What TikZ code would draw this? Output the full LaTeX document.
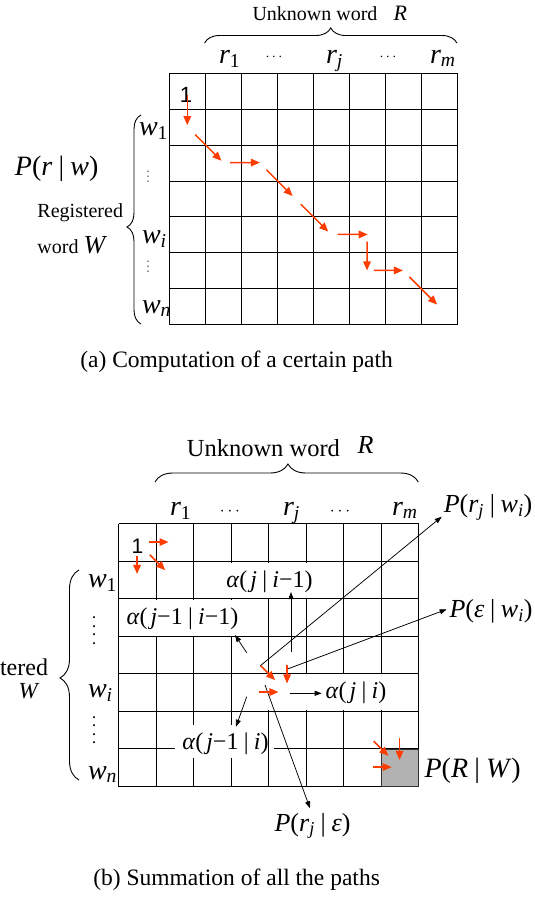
\documentclass[tikz,border=0pt]{standalone}
\usepackage{fontspec}
\setmainfont{Liberation Serif}
\newfontfamily\arialf{Liberation Sans}
\usetikzlibrary{calc,decorations.pathreplacing,arrows.meta}
\definecolor{redarr}{RGB}{255,60,0}
\definecolor{cellgray}{RGB}{178,178,178}
\newcommand\mi[1]{\textit{#1}}
\newcommand\sbs[1]{\textsubscript{#1}}
\newcommand\fs[1]{\fontsize{#1}{#1}\selectfont}
\newcommand\vbar{\kern.22em|\kern.22em}
\newcommand\vdthree[1]{\vbox{\baselineskip=#1\lineskiplimit=-20pt\relax\hbox{•}\hbox{•}\hbox{•}}}
\newcommand\vdfour[1]{\vbox{\baselineskip=#1\lineskiplimit=-20pt\relax\hbox{•}\hbox{•}\hbox{•}\hbox{•}}}
\newcommand\rarr[4]{\draw[redarrow] ($(#1)!#3!(#2)$) -- ($(#1)!#4!(#2)$);}
\begin{document}
\begin{tikzpicture}[x=1pt,y=-1pt,
  gridline/.style={draw=black, line width=1.2pt},
  redarrow/.style={draw=redarr, line width=1.5pt, -{Triangle[length=9pt,width=7.5pt]}},
  blkarrow/.style={draw=black, line width=0.75pt, -{Triangle[length=7pt,width=5pt]}},
  bracedraw/.style={draw=black, line width=0.9pt, decorate},
  lab/.style={inner sep=0pt, outer sep=0pt},
  mask/.style={fill=white, draw=none}]
\useasboundingbox (0,0) rectangle (535,898);

% ================= (a) =================
\foreach \i in {0,...,8}{
  \pgfmathsetmacro\xx{round(169.3+35.95*\i)+0.5}
  \draw[gridline] (\xx,72.5) -- (\xx,324.5);}
\foreach \j in {0,...,7}{
  \pgfmathsetmacro\yy{round(72.7+35.95*\j)+0.5}
  \draw[gridline] (169.5,\yy) -- (457.5,\yy);}
\foreach \r in {1,...,7}
  \foreach \c in {1,...,8}
    \coordinate (A-\r-\c) at ({169.3+35.95*(\c-0.5)},{72.7+35.95*(\r-0.5)});

\draw[bracedraw, decoration={brace, amplitude=15pt, aspect=0.5}] (204.6,43) -- (456.9,43);
\node[lab, anchor=base, font=\fs{20}] (uwa) at (315,20) {Unknown word};
\node[lab, anchor=base, font=\fs{22}] (Ra) at (400.4,20) {\mi{R}};

\node[lab, anchor=base west, font=\fs{28}] (ra1) at (219,63) {\mi{r}\sbs{1}};
\node[lab, font=\fs{15}] (da1) at (274,57.7) {$\cdots$};
\node[lab, anchor=base west, font=\fs{28}] (raj) at (326,63) {\mi{r}\sbs{\mi{j}}};
\node[lab, font=\fs{15}] (da2) at (388,57.7) {$\cdots$};
\node[lab, anchor=base west, font=\fs{28}] (ram) at (430,63) {\mi{r}\sbs{\mi{m}}};

\node[lab, anchor=base west, font=\fs{28}] (wa1) at (139,135) {\mi{w}\sbs{1}};
\node[lab, font=\fs{5.5}] (vda1) at (148,177.5) {\vdthree{5pt}};
\node[lab, anchor=base west, font=\fs{28}] (wai) at (142,243) {\mi{w}\sbs{\mi{i}}};
\node[lab, font=\fs{5.5}] (vda2) at (148,267) {\vdthree{5pt}};
\node[lab, anchor=base west, font=\fs{28}] (wan) at (142,313) {\mi{w}\sbs{\mi{n}}};

\draw[bracedraw, decoration={brace, amplitude=14pt, aspect=0.464}] (141,324) -- (141,115);
\node[lab, anchor=base west, font=\fs{28}] (prwa) at (15,175) {\mi{P}(\mi{r}\vbar\mi{w})};
\node[lab, anchor=base west, font=\fs{20}] (rega) at (37.5,217) {Registered};
\node[lab, anchor=base west, font=\fs{20}] (worda) at (37.5,253) {word {\fs{26}\mi{W}}};

\node[lab, anchor=base, font=\arialf\fs{22}] (onea) at (186,102) {1};

\rarr{A-1-1}{A-2-1}{0.12}{0.96}
\rarr{A-2-1}{A-3-2}{0.22}{0.95}
\rarr{A-3-2}{A-3-3}{0.19}{1.02}
\rarr{A-3-3}{A-4-4}{0.2}{0.93}
\rarr{A-4-4}{A-5-5}{0.16}{0.92}
\rarr{A-5-5}{A-5-6}{0.18}{1.02}
\rarr{A-5-6}{A-6-6}{0.2}{1.0}
\rarr{A-6-6}{A-6-7}{0.19}{1.0}
\rarr{A-6-7}{A-7-8}{0.18}{0.95}

\node[lab, anchor=base, font=\fs{23.5}] (capa) at (236.6,367.5) {(a) Computation of a certain path};

% ================= (b) =================
\foreach \i in {0,...,8}{
  \pgfmathsetmacro\xx{round(118.3+37.5*\i)+0.5}
  \draw[gridline] (\xx,523.5) -- (\xx,786.5);}
\foreach \j in {0,...,7}{
  \pgfmathsetmacro\yy{round(523.3+37.5*\j)+0.5}
  \draw[gridline] (118.5,\yy) -- (418.5,\yy);}
\foreach \r in {1,...,7}
  \foreach \c in {1,...,8}
    \coordinate (B-\r-\c) at ({118.3+37.5*(\c-0.5)},{523.3+37.5*(\r-0.5)});

% white boxes behind the labels inside the grid
\fill[mask] (222,562.5) rectangle (316,598.2);
\fill[mask] (121,600.2) rectangle (240,635.9);
\fill[mask] (262,674.2) rectangle (394,710.2);
\fill[mask] (175,725) rectangle (273.5,757.5);
\draw[gridline] (268.5,711) -- (268.5,786.5);

\filldraw[fill=cellgray, draw=black!80, line width=1.6pt] (381.5,749.5) rectangle (418.5,786.5);

\draw[bracedraw, decoration={brace, amplitude=18pt, aspect=0.505}] (155,482) -- (418.3,482);
\node[lab, anchor=base, font=\fs{24.5}] (uwb) at (263.4,456) {Unknown word};
\node[lab, anchor=base, font=\fs{26}] (Rb) at (365.5,453) {\mi{R}};

\node[lab, anchor=base west, font=\fs{28}] (rb1) at (170,515) {\mi{r}\sbs{1}};
\node[lab, font=\fs{18}] (db1) at (230,511.7) {$\cdots$};
\node[lab, anchor=base west, font=\fs{28}] (rbj) at (283,515) {\mi{r}\sbs{\mi{j}}};
\node[lab, font=\fs{18}] (db2) at (340,511.7) {$\cdots$};
\node[lab, anchor=base west, font=\fs{28}] (rbm) at (392,515) {\mi{r}\sbs{\mi{m}}};

\node[lab, anchor=base west, font=\fs{28}] (wb1) at (88,587) {\mi{w}\sbs{1}};
\node[lab, font=\fs{8.5}] (vdb1) at (94,631.5) {\vdfour{8.5pt}};
\node[lab, anchor=base west, font=\fs{28}] (wbi) at (88,697) {\mi{w}\sbs{\mi{i}}};
\node[lab, font=\fs{8.5}] (vdb2) at (94,731) {\vdfour{8.5pt}};
\node[lab, anchor=base west, font=\fs{28}] (wbn) at (88,779) {\mi{w}\sbs{\mi{n}}};

\draw[bracedraw, decoration={brace, amplitude=19pt, aspect=0.486}] (79,780) -- (79,570);
\node[lab, anchor=base east, font=\fs{24}] (regb) at (48,675) {tered};
\node[lab, anchor=base, font=\fs{23}] (Wb) at (29,698) {\mi{W}};

\node[lab, anchor=base, font=\arialf\fs{21}] (oneb) at (137.5,553) {1};

% labels inside / around the grid
\node[lab, font=\fs{24}] (ajim) at (269.5,582) {\mi{α}(\kern.12em\mi{j}\vbar\mi{i}−1)};
\node[lab, font=\fs{24}] (ajmim) at (182.5,619) {\mi{α}(\kern.12em\mi{j}−1\vbar\mi{i}−1)};
\node[lab, font=\fs{24}] (aji) at (356,693) {\mi{α}(\kern.12em\mi{j}\vbar\mi{i})};
\node[lab, font=\fs{24}] (ajmi) at (225.5,743.5) {\mi{α}(\kern.12em\mi{j}−1\vbar\mi{i})};
\node[lab, font=\fs{26}] (prw) at (488,507.5) {\mi{P}(\mi{r}\sbs{\mi{j}}\vbar\mi{w}\sbs{\mi{i}})};
\node[lab, font=\fs{26}] (pew) at (491,611.5) {\mi{P}(\mi{ε}\vbar\mi{w}\sbs{\mi{i}})};
\node[lab, font=\fs{28}] (pRW) at (472.7,771) {\mi{P}(\mi{R}\vbar\mi{W})};
\node[lab, font=\fs{26}] (pre) at (312.5,826) {\mi{P}(\mi{r}\sbs{\mi{j}}\vbar\mi{ε})};

% black arrows
\coordinate (t1) at (291,652);   \coordinate (h1) at (291,592);
\coordinate (t2) at (246.7,652.7); \coordinate (h2) at (235,635);
\coordinate (t3) at (290,693.3); \coordinate (h3) at (321.7,693.3);
\coordinate (t4) at (246.7,696.7); \coordinate (h4) at (236,726.7);
\coordinate (t5) at (260,666);   \coordinate (h5) at (441.7,516.7);
\coordinate (t6) at (286.7,669.3); \coordinate (h6) at (446.7,609.3);
\coordinate (t7) at (265,685);   \coordinate (h7) at (310,808.3);
\draw[blkarrow] (t1) -- (h1);
\draw[blkarrow] (t2) -- (h2);
\draw[blkarrow] (t3) -- (h3);
\draw[blkarrow] (t4) -- (h4);
\draw[blkarrow] (t5) -- (h5);
\draw[blkarrow] (t6) -- (h6);
\draw[blkarrow] (t7) -- (h7);

% red arrows
\rarr{B-1-1}{B-1-2}{0.33}{0.84}
\rarr{B-1-1}{B-2-1}{0.37}{0.85}
\rarr{B-1-1}{B-2-2}{0.34}{0.75}
\rarr{B-5-4}{B-5-5}{0.26}{0.77}
\rarr{B-4-5}{B-5-5}{0.28}{0.77}
\rarr{B-4-4}{B-5-5}{0.30}{0.68}
\rarr{B-6-7}{B-7-8}{0.31}{0.70}
\rarr{B-6-8}{B-7-8}{0.23}{0.81}
\rarr{B-7-7}{B-7-8}{0.30}{0.79}

\node[lab, anchor=base, font=\fs{23.5}] (capb) at (236.6,885) {(b) Summation of all the paths};
\end{tikzpicture}
\end{document}
